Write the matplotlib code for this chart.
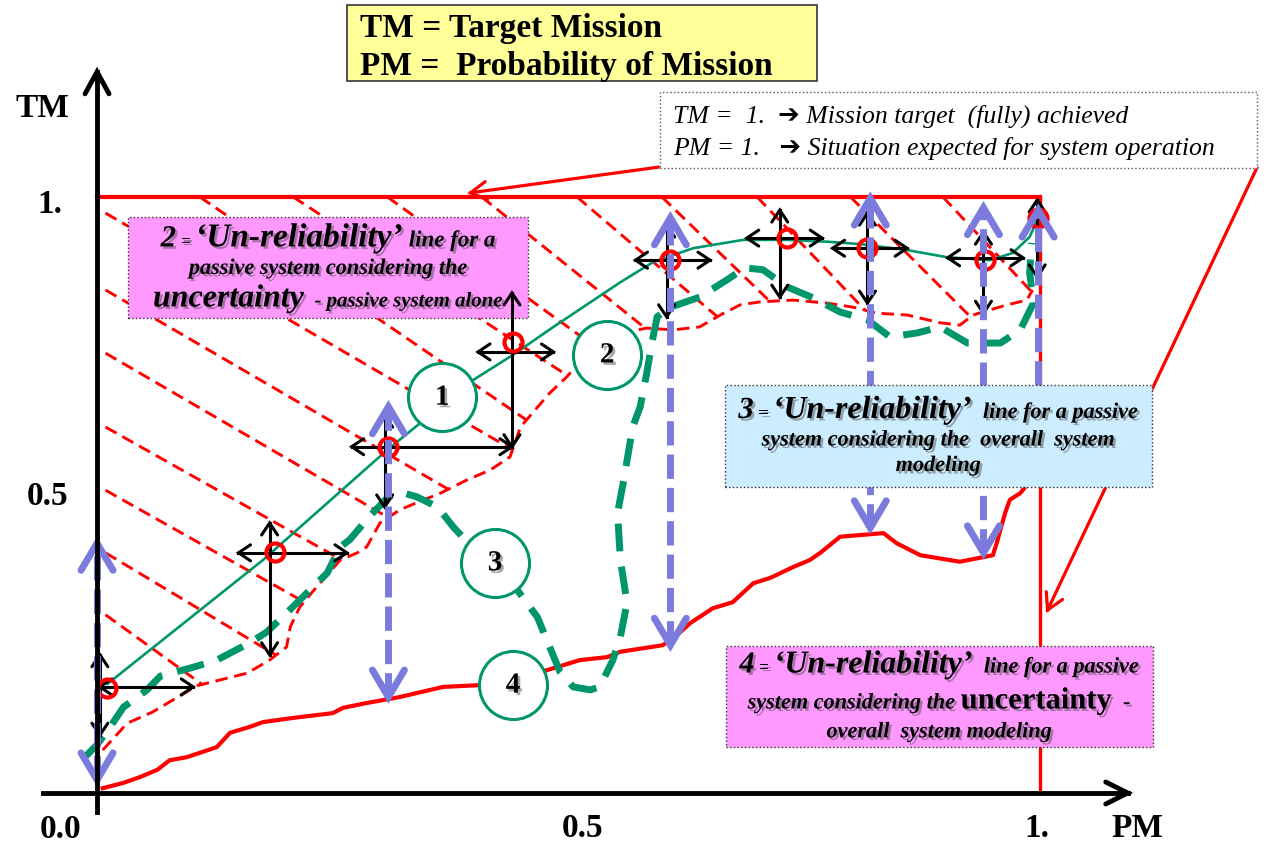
import matplotlib
matplotlib.use('Agg')
import matplotlib.pyplot as plt
import matplotlib.patheffects as pe
from matplotlib.patches import Rectangle, Polygon
from matplotlib.offsetbox import TextArea, HPacker, VPacker, AnnotationBbox
import numpy as np

RED = '#FF0000'
GREEN = '#00966C'
BLUE = '#7B7BDE'
SERIF = 'Liberation Serif'

# canvas in chart units (PM horizontally, TM vertically)
XMIN, XMAX = -0.1029, 1.2375
YMIN, YMAX = -0.0906, 1.3305
PX_X = (XMAX - XMIN) / 1264
PX_Y = (YMAX - YMIN) / 847

# line 1 - passive system (thin green)
line1_pm = [0.011, 0.176, 0.308, 0.399, 0.441, 0.484, 0.555, 0.590, 0.632, 0.685,
            0.732, 0.774, 0.809, 0.859, 0.901, 0.947, 0.971, 0.989, 0.996]
line1_tm = [0.183, 0.391, 0.576, 0.693, 0.735, 0.782, 0.857, 0.891, 0.914, 0.928,
            0.928, 0.925, 0.921, 0.911, 0.899, 0.894, 0.906, 0.933, 0.958]

# line 3 - overall system modeling (thick green dashed)
line3_pm = [-0.013, 0.000, 0.014, 0.028, 0.053, 0.067, 0.102, 0.127, 0.162, 0.180,
            0.201, 0.226, 0.244, 0.258, 0.268, 0.290, 0.309, 0.321, 0.339, 0.361,
            0.378, 0.406, 0.438, 0.467, 0.480, 0.491, 0.505, 0.523, 0.533, 0.547,
            0.555, 0.562, 0.555, 0.552, 0.558, 0.568, 0.576, 0.583, 0.589, 0.594,
            0.608, 0.639, 0.668, 0.687, 0.706, 0.732, 0.759, 0.788, 0.817, 0.841,
            0.870, 0.894, 0.923, 0.958, 0.979, 0.993, 0.989, 0.991]
line3_tm = [0.060, 0.081, 0.111, 0.144, 0.173, 0.196, 0.211, 0.223, 0.252, 0.270,
            0.302, 0.341, 0.369, 0.413, 0.425, 0.466, 0.497, 0.505, 0.497, 0.480,
            0.446, 0.399, 0.357, 0.295, 0.245, 0.203, 0.178, 0.173, 0.178, 0.223,
            0.262, 0.319, 0.391, 0.470, 0.520, 0.614, 0.648, 0.705, 0.760, 0.799,
            0.815, 0.832, 0.861, 0.881, 0.878, 0.849, 0.831, 0.807, 0.794, 0.765,
            0.772, 0.782, 0.755, 0.755, 0.777, 0.822, 0.873, 0.923]

# line 4 - uncertainty, overall system modeling (red)
line4_pm = [0.006, 0.028, 0.046, 0.064, 0.077, 0.095, 0.112, 0.127, 0.141, 0.162,
            0.176, 0.208, 0.250, 0.261, 0.286, 0.321, 0.367, 0.406, 0.477, 0.512,
            0.541, 0.555, 0.600, 0.615, 0.629, 0.653, 0.674, 0.696, 0.714, 0.738,
            0.756, 0.767, 0.788, 0.834, 0.848, 0.873, 0.915, 0.950, 0.954, 0.963,
            0.968, 0.979, 0.984, 0.992]
line4_tm = [0.008, 0.017, 0.027, 0.039, 0.055, 0.060, 0.069, 0.077, 0.101, 0.111,
            0.119, 0.126, 0.134, 0.143, 0.151, 0.161, 0.178, 0.181, 0.206, 0.223,
            0.228, 0.237, 0.248, 0.265, 0.285, 0.310, 0.320, 0.352, 0.361, 0.379,
            0.391, 0.403, 0.430, 0.436, 0.419, 0.399, 0.388, 0.399, 0.419, 0.470,
            0.492, 0.503, 0.513, 0.529]

# line 2 - lower edge of the uncertainty band (thin red dashed)
band_pm = [0.006, 0.032, 0.059, 0.106, 0.159, 0.170, 0.183, 0.201, 0.205, 0.215,
           0.233, 0.258, 0.276, 0.286, 0.300, 0.321, 0.339, 0.364, 0.392, 0.417,
           0.438, 0.449, 0.462, 0.480, 0.498, 0.523, 0.544, 0.583, 0.611, 0.639,
           0.661, 0.682, 0.703, 0.738, 0.774, 0.802, 0.827, 0.859, 0.894, 0.915,
           0.929, 0.965, 0.986, 0.992]
band_tm = [0.072, 0.117, 0.136, 0.180, 0.201, 0.211, 0.223, 0.245, 0.279, 0.312,
           0.346, 0.391, 0.403, 0.413, 0.453, 0.475, 0.487, 0.503, 0.525, 0.542,
           0.564, 0.614, 0.638, 0.671, 0.698, 0.743, 0.768, 0.780, 0.777, 0.782,
           0.802, 0.819, 0.824, 0.827, 0.822, 0.815, 0.805, 0.802, 0.789, 0.785,
           0.802, 0.819, 0.827, 0.844]

# hatching of the band: start point and drop per unit PM
hatch_pm = [0.009, 0.009, 0.009, 0.009, 0.009, 0.009, 0.009,
            0.109, 0.208, 0.308, 0.408, 0.509, 0.599, 0.700, 0.799, 0.897]
hatch_tm = [0.973, 0.844, 0.738, 0.614, 0.508, 0.403, 0.299,
            1.0, 1.0, 1.0, 1.0, 1.0, 1.0, 1.0, 1.0, 1.0]
hatch_drop = [0.92, 0.92, 0.92, 0.89, 0.89, 0.95, 1.14,
              1.08, 1.03, 1.14, 1.27, 1.35, 1.53, 1.66, 1.58, 1.69]

# uncertainty points on line 1
point_pm = [0.011, 0.189, 0.309, 0.441, 0.608, 0.732, 0.817, 0.942, 0.998]
point_tm = [0.176, 0.404, 0.581, 0.757, 0.894, 0.931, 0.914, 0.894, 0.965]

# black uncertainty arrows (horizontal and vertical)
h_left = [0.003, 0.150, 0.270, 0.404, 0.571, 0.689, 0.780, 0.902]
h_right = [0.102, 0.265, 0.440, 0.484, 0.650, 0.769, 0.859, 0.982]
h_tm = [0.178, 0.403, 0.581, 0.740, 0.894, 0.931, 0.914, 0.898]
v_pm = [0.003, 0.183, 0.305, 0.440, 0.604, 0.724, 0.817, 0.940, 0.997]
v_low = [0.097, 0.232, 0.480, 0.581, 0.799, 0.832, 0.822, 0.805, 0.866]
v_high = [0.232, 0.453, 0.634, 0.839, 0.953, 0.978, 0.973, 0.941, 0.995]

# blue dashed range arrows
range_pm = [0.000, 0.309, 0.608, 0.820, 0.940, 0.998]
range_low = [0.022, 0.161, 0.248, 0.445, 0.403, 0.685]
range_high = [0.419, 0.648, 0.965, 0.998, 0.982, 0.978]
range_low_head = [True, True, True, True, True, False]

# numbered circles
label_names = ['1', '2', '3', '4']
label_pm = [0.366, 0.541, 0.422, 0.441]
label_tm = [0.664, 0.735, 0.386, 0.181]

SHADOW = [pe.withSimplePatchShadow(offset=(1.8, -1.8), shadow_rgbFace='#444444', alpha=0.45)]


def head(ax, tip, tail, half_w, length, **kw):
    # open chevron at tip, sizes in pixels
    ux = (tip[0] - tail[0]) / PX_X
    uy = (tip[1] - tail[1]) / PX_Y
    n = np.hypot(ux, uy)
    ux, uy = ux / n, uy / n
    bx, by = -ux * length, -uy * length
    qx, qy = -uy * half_w, ux * half_w
    xs = [tip[0] + (bx + qx) * PX_X, tip[0], tip[0] + (bx - qx) * PX_X]
    ys = [tip[1] + (by + qy) * PX_Y, tip[1], tip[1] + (by - qy) * PX_Y]
    ax.plot(xs, ys, solid_capstyle='round', solid_joinstyle='miter', **kw)


def arrow(ax, start, end, color, lw, half_w, length, both=True, dashes=None, zorder=5):
    if dashes:
        ax.plot([start[0], end[0]], [start[1], end[1]], color=color, lw=lw,
                dashes=dashes, dash_capstyle='butt', zorder=zorder)
    else:
        ax.plot([start[0], end[0]], [start[1], end[1]], color=color, lw=lw, zorder=zorder)
    head(ax, end, start, half_w, length, color=color, lw=lw, zorder=zorder)
    if both:
        head(ax, start, end, half_w, length, color=color, lw=lw, zorder=zorder)


def rich_text(ax, x, y, lines, sep=4):
    rows = []
    for parts in lines:
        areas = [TextArea(t, textprops=dict(fontsize=s, fontfamily=SERIF, fontweight='bold',
                                            fontstyle=st, path_effects=SHADOW))
                 for t, s, st in parts]
        rows.append(HPacker(children=areas, align='baseline', pad=0, sep=0))
    pack = VPacker(children=rows, align='center', pad=0, sep=sep)
    ab = AnnotationBbox(pack, (x, y), xycoords='data', frameon=False,
                        box_alignment=(0.5, 0.5), zorder=9)
    ax.add_artist(ab)


fig = plt.figure(figsize=(12.64, 8.47), dpi=100)
ax = fig.add_axes([0, 0, 1, 1])
ax.set_xlim(XMIN, XMAX)
ax.set_ylim(YMIN, YMAX)
ax.axis('off')

# hatched uncertainty band
verts = [(band_pm[0], 1.0), (band_pm[-1], 1.0)] + list(zip(band_pm[::-1], band_tm[::-1]))
clip = Polygon(verts, closed=True, transform=ax.transData)
for x0, y0, d in zip(hatch_pm, hatch_tm, hatch_drop):
    ln, = ax.plot([x0, x0 + 0.8], [y0, y0 - d * 0.8], color=RED, lw=2.1,
                  dashes=(4.3, 2.3), zorder=1)
    ln.set_clip_path(clip)
ax.plot(band_pm, band_tm, color=RED, lw=2.1, dashes=(4.3, 2.3), zorder=2)

# TM = 1 and PM = 1 limits
ax.plot([0, 1], [1, 1], color=RED, lw=3, zorder=2)
ax.plot([1, 1], [0, 1], color=RED, lw=2.4, zorder=2)

ax.plot(line4_pm, line4_tm, color=RED, lw=3, solid_joinstyle='round', zorder=3)
ax.plot(line1_pm, line1_tm, color=GREEN, lw=1.9, zorder=4)
ax.plot(line3_pm, line3_tm, color=GREEN, lw=5, dashes=(4, 2.2), dash_capstyle='butt', zorder=4)

# black uncertainty arrows
for x0, x1, y in zip(h_left, h_right, h_tm):
    arrow(ax, (x0, y), (x1, y), 'black', 2.2, 8, 12)
for x, y0, y1 in zip(v_pm, v_low, v_high):
    arrow(ax, (x, y0), (x, y1), 'black', 2.2, 8, 12)

ax.plot(point_pm, point_tm, 'o', ms=13, mfc='none', mec=RED, mew=3, zorder=5.5)

# blue range arrows
for x, y0, y1, low in zip(range_pm, range_low, range_high, range_low_head):
    arrow(ax, (x, y0), (x, y1), BLUE, 5, 16, 27, both=low, dashes=(3.5, 1.3), zorder=6)

# numbered circles
ax.plot(label_pm, label_tm, 'o', ms=49, mfc='white', mec=GREEN, mew=2.2, zorder=7)
for name, x, y in zip(label_names, label_pm, label_tm):
    ax.text(x, y, name, fontsize=21, fontfamily=SERIF, fontweight='bold',
            ha='center', va='center', path_effects=SHADOW, zorder=7.5)

# axes
ax.plot([0, 0], [-0.032, 1.21], color='black', lw=3.5, zorder=6)
head(ax, (0, 1.21), (0, 0), 12, 22, color='black', lw=3.5, zorder=6)
ax.plot([-0.057, 1.093], [0, 0], color='black', lw=3.5, zorder=6)
head(ax, (1.093, 0), (0, 0), 11, 22, color='black', lw=3.5, zorder=6)

axis_font = dict(fontsize=24, fontfamily=SERIF, fontweight='bold', ha='center', va='center')
ax.text(-0.058, 1.149, 'TM', **axis_font)
ax.text(-0.050, 0.987, '1.', **axis_font)
ax.text(-0.052, 0.497, '0.5', **axis_font)
ax.text(-0.039, -0.062, '0.0', **axis_font)
ax.text(0.515, -0.059, '0.5', **axis_font)
ax.text(0.997, -0.059, '1.', **axis_font)
ax.text(1.103, -0.059, 'PM', **axis_font)

# legend box (yellow)
ax.add_patch(Rectangle((0.265, 1.195), 0.499, 0.127, facecolor='#FFFF99',
                       edgecolor='#333333', lw=1.2, zorder=8))
ax.text(0.279, 1.268, 'TM = Target Mission', fontsize=24, fontfamily=SERIF,
        fontweight='bold', va='baseline', zorder=9)
ax.text(0.279, 1.205, 'PM =  Probability of Mission', fontsize=24, fontfamily=SERIF,
        fontweight='bold', va='baseline', zorder=9)

# info box
ax.add_patch(Rectangle((0.597, 1.049), 0.633, 0.127, facecolor='white',
                       edgecolor='#555555', lw=1, ls=':', zorder=8))
info_font = dict(fontsize=18.5, fontfamily=[SERIF, 'DejaVu Sans'], fontstyle='italic',
                 va='baseline', zorder=9)
ax.text(0.611, 1.124, 'TM =  1.  \u2794 Mission target  (fully) achieved', **info_font)
ax.text(0.611, 1.070, 'PM = 1.   \u2794 Situation expected for system operation', **info_font)

# red pointers from the info box
ax.plot([0.595, 0.396], [1.050, 1.007], color=RED, lw=2.3, zorder=3)
head(ax, (0.396, 1.007), (0.595, 1.050), 9, 16, color=RED, lw=2.3, zorder=3)
ax.plot([1.230, 1.008], [1.049, 0.307], color=RED, lw=2.3, zorder=3)
head(ax, (1.008, 0.307), (1.230, 1.049), 9, 16, color=RED, lw=2.3, zorder=3)

# description boxes
ax.add_patch(Rectangle((0.033, 0.797), 0.424, 0.169, facecolor='#FF99FF',
                       edgecolor='#333333', lw=1, ls=':', zorder=3.5))
rich_text(ax, 0.245, 0.881, [
    [('2', 22, 'italic'), (' = ', 13, 'italic'), ('\u2018Un-reliability\u2019', 24, 'italic'),
     (' line for a', 16.5, 'italic')],
    [('passive system considering the', 16, 'italic')],
    [('uncertainty', 23, 'italic'), ('  - passive system alone', 15, 'italic')],
])

ax.add_patch(Rectangle((0.666, 0.513), 0.453, 0.172, facecolor='#CCECFF',
                       edgecolor='#333333', lw=1, ls=':', zorder=8))
rich_text(ax, 0.892, 0.599, [
    [('3', 22, 'italic'), (' = ', 13, 'italic'), ('\u2018Un-reliability\u2019', 23, 'italic'),
     ('  line for a passive', 16, 'italic')],
    [('system considering the  overall  system', 16, 'italic')],
    [('modeling', 16, 'italic')],
])

ax.add_patch(Rectangle((0.667, 0.077), 0.453, 0.170, facecolor='#FF99FF',
                       edgecolor='#333333', lw=1, ls=':', zorder=8))
rich_text(ax, 0.893, 0.162, [
    [('4', 22, 'italic'), (' = ', 13, 'italic'), ('\u2018Un-reliability\u2019', 23, 'italic'),
     ('  line for a passive', 16, 'italic')],
    [('system considering the ', 16, 'italic'), ('uncertainty', 22, 'normal'),
     ('  -', 16, 'italic')],
    [('overall  system modeling', 16, 'italic')],
], sep=5)

fig.savefig('out.png', dpi=100)
